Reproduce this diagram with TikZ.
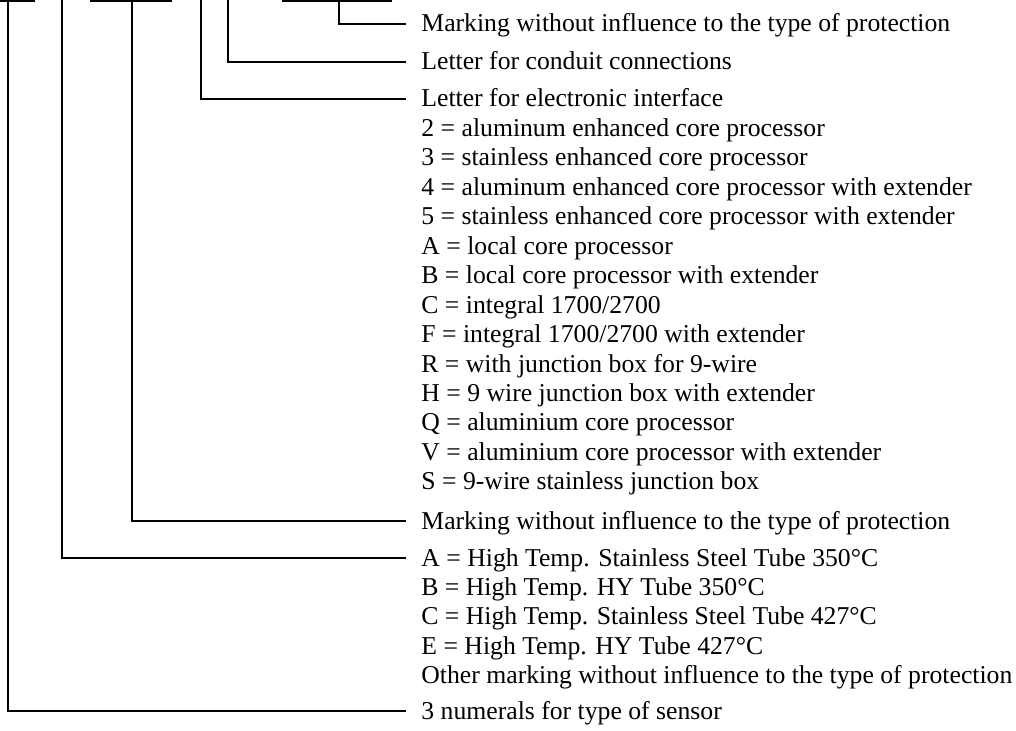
\documentclass[tikz,border=0pt]{standalone}
\usepackage{fontspec}
\setmainfont{Liberation Serif}
\begin{document}
\begin{tikzpicture}[x=0.5pt,y=-0.5pt,
  conn/.style={line width=1.25pt},
  lbl/.style={anchor=west,inner sep=0pt,text height=10pt,text depth=2pt,font=\fontsize{12.85}{14}\selectfont},
]
\useasboundingbox (0,0) rectangle (1016,731);
\clip (0,0) rectangle (1016,731);
% top bars
\draw[conn] (0,0.3) -- (35,0.3);
\draw[conn] (90,0.3) -- (172,0.3);
\draw[conn] (282,0.3) -- (392,0.3);
% top coordinates
\coordinate (c1) at (8,0);
\coordinate (c2) at (62,0);
\coordinate (c3) at (132,0);
\coordinate (c4) at (201,0);
\coordinate (c5) at (228,0);
\coordinate (c6) at (339,0);
% labels
\def\tx{421}
\node[lbl] (m1) at (\tx,24) {Marking without influence to the type of protection};
\node[lbl] (lc) at (\tx,62) {Letter for conduit connections};
\node[lbl] (le) at (\tx,99) {Letter for electronic interface};
\node[lbl] (e2) at (\tx,128.45) {2 = aluminum enhanced core processor};
\node[lbl] (e3) at (\tx,157.9) {3 = stainless enhanced core processor};
\node[lbl] (e4) at (\tx,187.35) {4 = aluminum enhanced core processor with extender};
\node[lbl] (e5) at (\tx,216.8) {5 = stainless enhanced core processor with extender};
\node[lbl] (eA) at (\tx,246.25) {A = local core processor};
\node[lbl] (eB) at (\tx,275.7) {B = local core processor with extender};
\node[lbl] (eC) at (\tx,305.15) {C = integral 1700/2700};
\node[lbl] (eF) at (\tx,334.6) {F = integral 1700/2700 with extender};
\node[lbl] (eR) at (\tx,364.05) {R = with junction box for 9-wire};
\node[lbl] (eH) at (\tx,393.5) {H = 9 wire junction box with extender};
\node[lbl] (eQ) at (\tx,422.95) {Q = aluminium core processor};
\node[lbl] (eV) at (\tx,452.4) {V = aluminium core processor with extender};
\node[lbl] (eS) at (\tx,481.85) {S = 9-wire stainless junction box};
\node[lbl] (m2) at (\tx,521) {Marking without influence to the type of protection};
\node[lbl] (tA) at (\tx,558) {A = High Temp. Stainless Steel Tube 350°C};
\node[lbl] (tB) at (\tx,587.45) {B = High Temp. HY Tube 350°C};
\node[lbl] (tC) at (\tx,616.9) {C = High Temp. Stainless Steel Tube 427°C};
\node[lbl] (tE) at (\tx,646.35) {E = High Temp. HY Tube 427°C};
\node[lbl] (tO) at (\tx,675.8) {Other marking without influence to the type of protection};
\node[lbl] (n3) at (\tx,711) {3 numerals for type of sensor};
% connectors
\draw[conn] (c6) |- ([xshift=-7.5pt]m1.west);
\draw[conn] (c5) |- ([xshift=-7.5pt]lc.west);
\draw[conn] (c4) |- ([xshift=-7.5pt]le.west);
\draw[conn] (c3) |- ([xshift=-7.5pt]m2.west);
\draw[conn] (c2) |- ([xshift=-7.5pt]tA.west);
\draw[conn] (c1) |- ([xshift=-7.5pt]n3.west);
\end{tikzpicture}
\end{document}
